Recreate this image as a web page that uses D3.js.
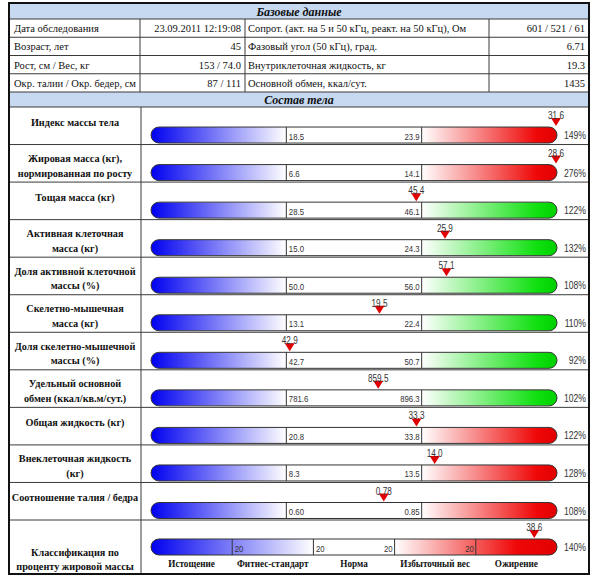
<!DOCTYPE html>
<html><head><meta charset="utf-8">
<script src="https://cdn.jsdelivr.net/npm/d3@7"></script>
<style>body{margin:0;background:#fff}</style>
</head><body><svg id="c" width="600" height="577"></svg>
<script>
// ---------- data ----------
const baseTitle = "Базовые данные";
const baseLeftLabels = ["Дата обследования", "Возраст, лет", "Рост, см / Вес, кг", "Окр. талии / Окр. бедер, см"];
const baseLeftValues = ["23.09.2011 12:19:08", "45", "153 / 74.0", "87 / 111"];
const baseRightLabels = ["Сопрот. (акт. на 5 и 50 кГц, реакт. на 50 кГц), Ом", "Фазовый угол (50 кГц), град.", "Внутриклеточная жидкость, кг", "Основной обмен, ккал/сут."];
const baseRightValues = ["601 / 521 / 61", "6.71", "19.3", "1435"];

const compTitle = "Состав тела";
const indicators = [
  "Индекс массы тела",
  "Жировая масса (кг),\nнормированная по росту",
  "Тощая масса (кг)",
  "Активная клеточная\nмасса (кг)",
  "Доля активной клеточной\nмассы (%)",
  "Скелетно-мышечная\nмасса (кг)",
  "Доля скелетно-мышечной\nмассы (%)",
  "Удельный основной\nобмен (ккал/кв.м/сут.)",
  "Общая жидкость (кг)",
  "Внеклеточная жидкость\n(кг)",
  "Соотношение талия / бедра"
];
const normLow  = [18.5, 6.6, 28.5, 15.0, 50.0, 13.1, 42.7, 781.6, 20.8, 8.3, 0.60];
const normHigh = [23.9, 14.1, 46.1, 24.3, 56.0, 22.4, 50.7, 896.3, 33.8, 13.5, 0.85];
const measured = [31.6, 28.6, 45.4, 25.9, 57.1, 19.5, 42.9, 859.5, 33.3, 14.0, 0.78];
const decimals = [1, 1, 1, 1, 1, 1, 1, 1, 1, 1, 2];
const percents = [149, 276, 122, 132, 108, 110, 92, 102, 122, 128, 108];
const excessKind = ["red", "red", "green", "green", "green", "green", "green", "green", "red", "red", "red"];

const classLabel = "Классификация по\nпроценту жировой массы";
const classNames = ["Истощение", "Фитнес-стандарт", "Норма", "Избыточный вес", "Ожирение"];
const classBounds = [10, 18, 24, 30, 35, 40];
const classSegLeft  = ["", "20", "20", "", ""];
const classSegRight = ["", "", "20", "20", ""];
const fatPercent = 38.6;
const classPercent = 140;

// ---------- layout ----------
const svg = d3.select("#c");
const L = 9, R = 589, T = 3, B = 574;
const colA = 140, colB = 245, colC = 489, colBody = 141;
const yTop = d3.scaleLinear().domain([0, 4]).range([19, 92]);
const yRow = d3.scaleLinear().domain([0, indicators.length]).range([107, 520]);
const xb = d3.scaleLinear().domain([0, 3]).range([151, 557]);
const xc = d3.scaleLinear().domain([0, 5]).range([151, 557]);
const BAR_H = 16;
const gridColor = "#3a3a3a";
const headFill = "#c6d9f1";
const SANS = "'Liberation Sans', Arial, sans-serif";
const SERIF = "'Liberation Serif', 'Times New Roman', serif";

function txt(sel, x, y, s, o = {}) {
  return sel.append("text")
    .attr("transform", `translate(${x},${y}) scale(${o.sx || 0.82},1)`)
    .attr("text-anchor", o.anchor || "start")
    .attr("font-family", o.family || SERIF)
    .attr("font-size", o.size || 11)
    .attr("font-weight", o.weight || "normal")
    .attr("font-style", o.style || "normal")
    .attr("fill", o.fill || "#111")
    .text(s);
}
function hline(y, x1 = L, x2 = R) {
  svg.append("line").attr("x1", x1).attr("x2", x2).attr("y1", y).attr("y2", y)
    .attr("stroke", gridColor).attr("stroke-width", 1);
}
function vline(x, y1, y2) {
  svg.append("line").attr("x1", x).attr("x2", x).attr("y1", y1).attr("y2", y2)
    .attr("stroke", gridColor).attr("stroke-width", 1);
}

const defs = svg.append("defs");
function grad(id, x1, x2, stops) {
  const g = defs.append("linearGradient").attr("id", id)
    .attr("gradientUnits", "userSpaceOnUse").attr("x1", x1).attr("x2", x2).attr("y1", 0).attr("y2", 0);
  stops.forEach(s => g.append("stop").attr("offset", s[0]).attr("stop-color", s[1]));
}
grad("gBlue", xb(0), xb(1), [[0, "#0000f0"], [1, "#ffffff"]]);
grad("gRed", xb(2), xb(3), [[0, "#ffffff"], [0.85, "#f00808"], [1, "#e00000"]]);
grad("gGreen", xb(2), xb(3), [[0, "#ffffff"], [0.85, "#10e010"], [1, "#00d000"]]);
grad("gClass", xc(0), xc(5), [[0, "#0000f0"], [0.4, "#ffffff"], [0.6, "#ffffff"], [0.9, "#f00808"], [1, "#e00000"]]);

// header backgrounds
svg.append("rect").attr("x", L).attr("y", T).attr("width", R - L).attr("height", 19 - T).attr("fill", headFill);
svg.append("rect").attr("x", L).attr("y", 92).attr("width", R - L).attr("height", 107 - 92).attr("fill", headFill);
const headOpt = {anchor: "middle", weight: "bold", style: "italic", size: 12, sx: 1.0};
txt(svg, (L + R) / 2, 15.5, baseTitle, headOpt);
txt(svg, (L + R) / 2, 104, compTitle, headOpt);

// base data table
hline(19);
const baseOpt = {size: 10.5, sx: 1.0};
baseLeftLabels.forEach((d, i) => {
  const yb = yTop(i) + 13;
  txt(svg, L + 5, yb, d, baseOpt);
  txt(svg, colB - 4, yb, baseLeftValues[i], Object.assign({anchor: "end"}, baseOpt));
  txt(svg, colB + 3, yb, baseRightLabels[i], baseOpt);
  txt(svg, R - 4, yb, baseRightValues[i], Object.assign({anchor: "end"}, baseOpt));
  hline(yTop(i + 1));
});
[colA, colB, colC].forEach(x => vline(x, 19, 92));
hline(107);

// body composition rows
const lineH = 14.5;
function rowLabel(text, cy) {
  const lines = text.split("\n");
  const shift = lines.length === 1 ? -4 : 2;
  lines.forEach((ln, k) => {
    const y = cy + shift + (k - (lines.length - 1) / 2) * lineH + 4;
    txt(svg, (L + colBody) / 2, y, ln, {anchor: "middle", weight: "bold", size: 11, sx: 0.93});
  });
}
function barShape(g, id, top, x0, x1) {
  g.append("clipPath").attr("id", id).append("rect")
    .attr("x", x0).attr("y", top).attr("width", x1 - x0).attr("height", BAR_H).attr("rx", 8).attr("ry", 8);
  return g.append("g").attr("clip-path", `url(#${id})`);
}
function marker(g, mx, top, label) {
  g.append("path")
    .attr("d", `M${mx - 5},${top - 9}L${mx + 5},${top - 9}L${mx},${top - 1}Z`)
    .attr("fill", "#e00000");
  txt(g, mx, top - 8, label, {anchor: "middle", family: SANS, size: 10, fill: "#333"});
}

indicators.forEach((name, i) => {
  const r0 = yRow(i), r1 = yRow(i + 1);
  rowLabel(name, (r0 + r1) / 2);
  const top = r1 - 1.5 - BAR_H;
  const g = svg.append("g");
  const inner = barShape(g, "clip" + i, top, xb(0), xb(3));
  inner.append("rect").attr("x", xb(0)).attr("y", top).attr("width", xb(1) - xb(0)).attr("height", BAR_H).attr("fill", "url(#gBlue)");
  inner.append("rect").attr("x", xb(1)).attr("y", top).attr("width", xb(2) - xb(1)).attr("height", BAR_H).attr("fill", "#fff");
  inner.append("rect").attr("x", xb(2)).attr("y", top).attr("width", xb(3) - xb(2)).attr("height", BAR_H)
    .attr("fill", excessKind[i] === "red" ? "url(#gRed)" : "url(#gGreen)");
  g.append("rect").attr("x", xb(0)).attr("y", top).attr("width", xb(3) - xb(0)).attr("height", BAR_H)
    .attr("rx", 8).attr("ry", 8).attr("fill", "none").attr("stroke", "#333").attr("stroke-width", 1);
  [1, 2].forEach(k => g.append("line").attr("x1", xb(k)).attr("x2", xb(k)).attr("y1", top).attr("y2", top + BAR_H)
    .attr("stroke", "#333").attr("stroke-width", 1));
  const f = d3.format("." + decimals[i] + "f");
  const sans = {family: SANS, size: 9.5, fill: "#333"};
  txt(g, xb(1) + 2.5, top + 12.5, f(normLow[i]), sans);
  txt(g, xb(2) - 2, top + 12.5, f(normHigh[i]), Object.assign({anchor: "end"}, sans));
  const vs = d3.scaleLinear().domain([normLow[i], normHigh[i]]).range([xb(1), xb(2)]);
  const mx = Math.max(xb(0) + 5, Math.min(xb(3) - 1, vs(measured[i])));
  marker(g, mx, top, f(measured[i]));
  txt(g, R - 3, top + 12, percents[i] + "%", {anchor: "end", family: SANS, size: 10.5, fill: "#333"});
  hline(r1);
});

// classification row
{
  rowLabel(classLabel, 557);
  const top = 539;
  const g = svg.append("g");
  const inner = barShape(g, "clipC", top, xc(0), xc(5));
  inner.append("rect").attr("x", xc(0)).attr("y", top).attr("width", xc(5) - xc(0)).attr("height", BAR_H).attr("fill", "url(#gClass)");
  g.append("rect").attr("x", xc(0)).attr("y", top).attr("width", xc(5) - xc(0)).attr("height", BAR_H)
    .attr("rx", 8).attr("ry", 8).attr("fill", "none").attr("stroke", "#333");
  [1, 2, 3, 4].forEach(k => g.append("line").attr("x1", xc(k)).attr("x2", xc(k)).attr("y1", top).attr("y2", top + BAR_H)
    .attr("stroke", "#333"));
  const sans = {family: SANS, size: 9.5, fill: "#333"};
  classNames.forEach((n, k) => {
    if (classSegLeft[k]) txt(g, xc(k) + 2.5, top + 12.5, classSegLeft[k], sans);
    if (classSegRight[k]) txt(g, xc(k + 1) - 2, top + 12.5, classSegRight[k], Object.assign({anchor: "end"}, sans));
    txt(g, (xc(k) + xc(k + 1)) / 2, 567, n, {anchor: "middle", weight: "bold", size: 10, sx: 0.92});
  });
  const cs = d3.scaleLinear().domain(classBounds).range(d3.range(6).map(xc));
  marker(g, cs(fatPercent), top, d3.format(".1f")(fatPercent));
  txt(g, R - 3, top + 12, classPercent + "%", {anchor: "end", family: SANS, size: 10.5, fill: "#333"});
}

vline(colBody, 107, B);
// outer border
svg.append("rect").attr("x", L).attr("y", T).attr("width", R - L).attr("height", B - T)
  .attr("fill", "none").attr("stroke", "#111").attr("stroke-width", 2);
</script>
</body></html>
